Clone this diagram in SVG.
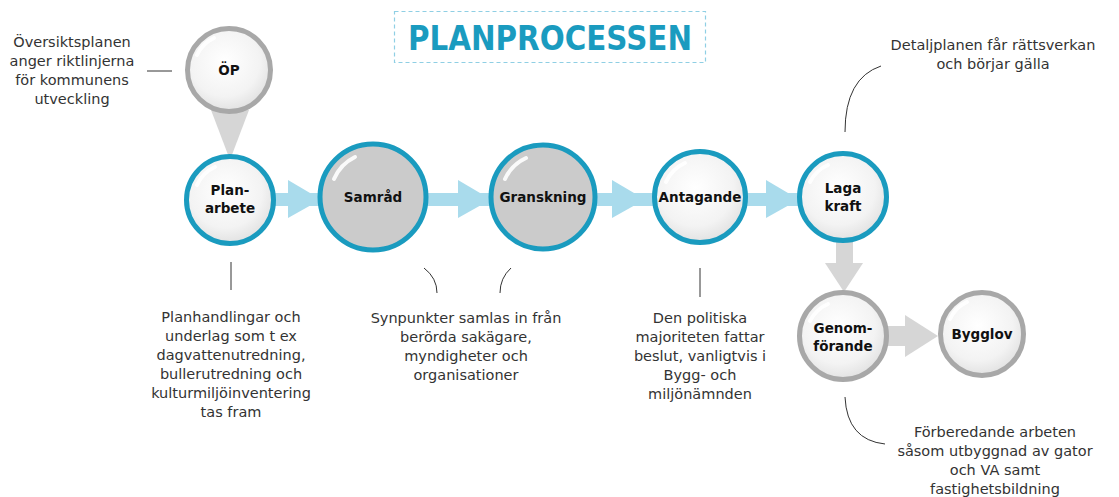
<svg xmlns="http://www.w3.org/2000/svg" width="1119" height="497" viewBox="0 0 1119 497">
<defs>
<radialGradient id="gw" cx="45%" cy="40%" r="60%">
<stop offset="0" stop-color="#ffffff"/>
<stop offset="0.7" stop-color="#f3f3f3"/>
<stop offset="1" stop-color="#e2e2e2"/>
</radialGradient>
<style>
.body{font-family:"DejaVu Sans","Liberation Sans",sans-serif;font-size:14.5px;fill:#333333;text-anchor:middle}
.lbl{font-family:"DejaVu Sans","Liberation Sans",sans-serif;font-size:13.5px;font-weight:bold;fill:#111;text-anchor:middle}
.blue{stroke:#1a9bbf;stroke-width:5}
.grey{stroke:#a8a8a8;stroke-width:5}
.wf{fill:url(#gw)}
.gf{fill:#cbcbcb}
.hl{fill:none;stroke:#ffffff;stroke-width:4;stroke-linecap:round;opacity:0.9}
.ln{fill:none;stroke:#333;stroke-width:1}
</style>
</defs>
<rect width="1119" height="497" fill="#ffffff"/>

<g id="title">
<rect x="394.5" y="11.5" width="311" height="51" fill="none" stroke="#8fcfe4" stroke-width="1.2" stroke-dasharray="4,3"/>
<text x="550" y="50" font-family="DejaVu Sans, Liberation Sans, sans-serif" font-size="33" font-weight="bold" fill="#1a9bbf" text-anchor="middle" textLength="284" lengthAdjust="spacingAndGlyphs">PLANPROCESSEN</text>
</g>

<g id="connectors">
<rect x="272" y="193" width="530" height="13" fill="#a9dbec"/>
<polygon points="288,180 321,199.5 288,218" fill="#a9dbec"/>
<polygon points="458,180 491,199.5 458,218" fill="#a9dbec"/>
<polygon points="612,180 645,199.5 612,218" fill="#a9dbec"/>
<polygon points="766,180 799,199.5 766,218" fill="#a9dbec"/>
<polygon points="211,110 249,110 230,160" fill="#d6d6d6"/>
<rect x="836" y="240" width="17" height="26" fill="#d6d6d6"/>
<polygon points="825,263 863,263 844,292" fill="#d6d6d6"/>
<rect x="887" y="326" width="20" height="20" fill="#d6d6d6"/>
<polygon points="905,315 905,357 938,336" fill="#d6d6d6"/>
<path class="ln" d="M147,71 H172"/>
<path class="ln" d="M231,262 V290"/>
<path class="ln" d="M424,268 Q437,278 437,293"/>
<path class="ln" d="M511,268 Q500,278 500,293"/>
<path class="ln" d="M700,268 V297"/>
<path class="ln" d="M881,66 Q845,78 845,132"/>
<path class="ln" d="M845,397 Q847,440 885,444"/>
</g>

<g id="n-op">
<circle cx="229" cy="70" r="41.5" class="grey wf"/>
<path class="hl" d="M197,55 A35,35 0 0 1 214,38"/>
<text x="229" y="75" class="lbl">ÖP</text>
</g>
<g id="n-planarbete">
<circle cx="230" cy="200" r="43.5" class="blue wf"/>
<path class="hl" d="M197,185 A36,36 0 0 1 215,167"/>
<text x="230" y="195" class="lbl">Plan-</text>
<text x="230" y="213" class="lbl">arbete</text>
</g>
<g id="n-samrad">
<circle cx="373" cy="197" r="53" class="blue gf"/>
<path class="hl" d="M334,179 A44,44 0 0 1 355,157"/>
<text x="373" y="202" class="lbl">Samråd</text>
</g>
<g id="n-granskning">
<circle cx="543" cy="197" r="52" class="blue gf"/>
<path class="hl" d="M505,179 A43,43 0 0 1 526,158"/>
<text x="543" y="202" class="lbl">Granskning</text>
</g>
<g id="n-antagande">
<circle cx="700" cy="197" r="45.5" class="blue wf"/>
<path class="hl" d="M666,182 A38,38 0 0 1 685,163"/>
<text x="700" y="202" class="lbl">Antagande</text>
</g>
<g id="n-lagakraft">
<circle cx="843" cy="197" r="43.5" class="blue wf"/>
<path class="hl" d="M810,182 A36,36 0 0 1 828,165"/>
<text x="843" y="193" class="lbl">Laga</text>
<text x="843" y="211" class="lbl">kraft</text>
</g>
<g id="n-genomforande">
<circle cx="843" cy="336" r="43.5" class="grey wf"/>
<path class="hl" d="M810,321 A36,36 0 0 1 828,304"/>
<text x="843" y="333" class="lbl">Genom-</text>
<text x="843" y="351" class="lbl">förande</text>
</g>
<g id="n-bygglov">
<circle cx="982" cy="334" r="41.5" class="grey wf"/>
<path class="hl" d="M950,319 A35,35 0 0 1 967,302"/>
<text x="982" y="339" class="lbl">Bygglov</text>
</g>

<g id="texts">
<text class="body"><tspan x="72" y="47">Översiktsplanen</tspan><tspan x="72" y="66">anger riktlinjerna</tspan><tspan x="72" y="85">för kommunens</tspan><tspan x="72" y="104">utveckling</tspan></text>
<text class="body"><tspan x="231" y="322">Planhandlingar och</tspan><tspan x="231" y="341">underlag som t ex</tspan><tspan x="231" y="360">dagvattenutredning,</tspan><tspan x="231" y="379">bullerutredning och</tspan><tspan x="231" y="398">kulturmiljöinventering</tspan><tspan x="231" y="417">tas fram</tspan></text>
<text class="body"><tspan x="466" y="323">Synpunkter samlas in från</tspan><tspan x="466" y="342">berörda sakägare,</tspan><tspan x="466" y="361">myndigheter och</tspan><tspan x="466" y="380">organisationer</tspan></text>
<text class="body"><tspan x="700" y="323">Den politiska</tspan><tspan x="700" y="342">majoriteten fattar</tspan><tspan x="700" y="361">beslut, vanligtvis i</tspan><tspan x="700" y="380">Bygg- och</tspan><tspan x="700" y="399">miljönämnden</tspan></text>
<text class="body"><tspan x="993" y="50">Detaljplanen får rättsverkan</tspan><tspan x="993" y="69">och börjar gälla</tspan></text>
<text class="body"><tspan x="995" y="437">Förberedande arbeten</tspan><tspan x="995" y="456">såsom utbyggnad av gator</tspan><tspan x="995" y="475">och VA samt</tspan><tspan x="995" y="494">fastighetsbildning</tspan></text>
</g>
</svg>
